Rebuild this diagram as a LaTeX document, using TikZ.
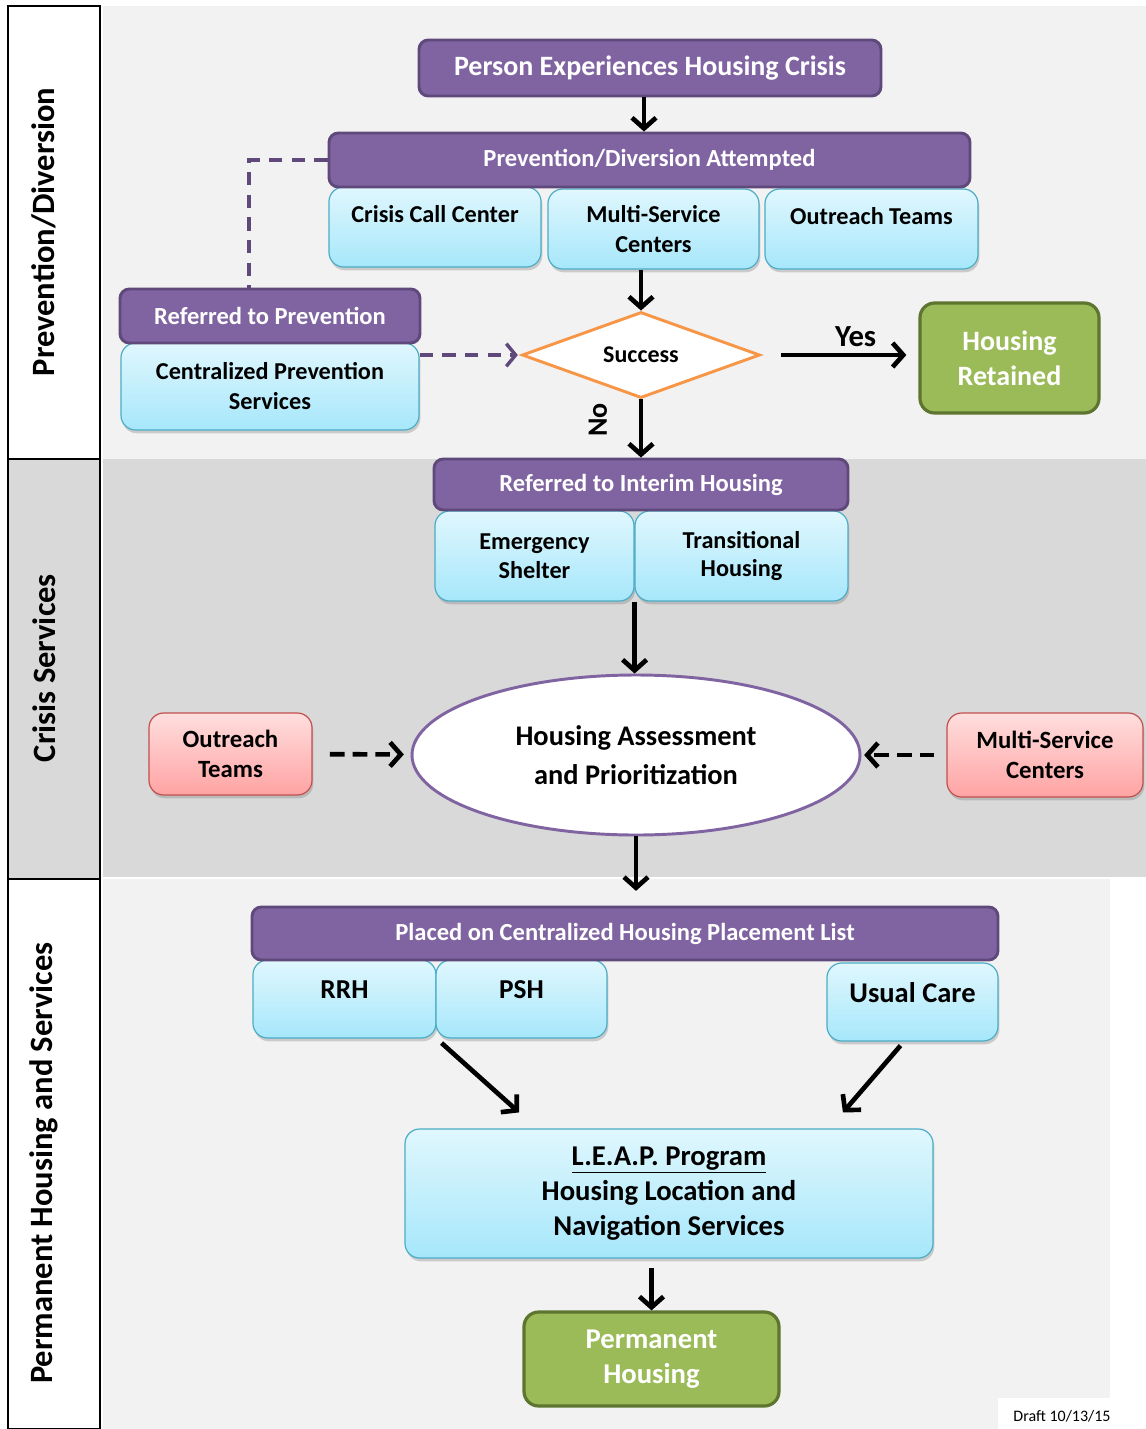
\documentclass[tikz,border=0pt]{standalone}
\usepackage{fontspec}
\setmainfont{Carlito}
\usepackage{xcolor}
\usepackage{tikz}
\usetikzlibrary{positioning,shapes.geometric,arrows.meta,shadows}

\definecolor{lanegrey}{HTML}{D9D9D9}
\definecolor{panelgrey}{HTML}{F2F2F2}
\definecolor{purplefill}{HTML}{8064A2}
\definecolor{purpleedge}{HTML}{5F497A}
\definecolor{bluetop}{HTML}{E0F7FD}
\definecolor{bluebottom}{HTML}{A6E7FB}
\definecolor{blueedge}{HTML}{4BACC6}
\definecolor{redtop}{HTML}{FFDEDE}
\definecolor{redbottom}{HTML}{FFA3A3}
\definecolor{rededge}{HTML}{C0504D}
\definecolor{greenfill}{HTML}{9BBB59}
\definecolor{greenedge}{HTML}{5E7530}
\definecolor{orangeedge}{HTML}{F79646}

\newlength\pxu
\setlength\pxu{0.75pt}
\newcommand\fsz[2]{\fontsize{#1}{#2}\selectfont\bfseries}

\begin{document}
\begin{tikzpicture}[x=0.75pt,y=-0.75pt,font=\bfseries,
  purplebox/.style={draw=purpleedge,fill=purplefill,line width=2.2pt,rounded corners=7pt,text=white,inner sep=0pt,align=center},
  bluebox/.style={draw=blueedge,top color=bluetop,bottom color=bluebottom,line width=0.9pt,rounded corners=11pt,inner sep=0pt,align=center,drop shadow={shadow xshift=1pt,shadow yshift=-2.5pt,opacity=0.35}},
  redbox/.style={draw=rededge,top color=redtop,bottom color=redbottom,line width=0.9pt,rounded corners=11pt,inner sep=0pt,align=center,drop shadow={shadow xshift=1pt,shadow yshift=-2.5pt,opacity=0.35}},
  greenbox/.style={draw=greenedge,fill=greenfill,line width=2.4pt,rounded corners=11pt,text=white,inner sep=0pt,align=center},
  uptext/.style={text height=12pt,text depth=#1},
  arr/.style={line width=3.5pt,-{Straight Barb[length=8pt,width=18pt]}},
  dasharr/.style={arr,dash pattern=on 11pt off 6pt},
  purpledash/.style={draw=purpleedge,line width=2.6pt,dash pattern=on 10pt off 7pt}]
\useasboundingbox (0,0) rectangle (1146,1429);
\fill[panelgrey] (103,6) rectangle (1146,459);
\fill[lanegrey] (103,459) rectangle (1146,877);
\fill[panelgrey] (103,879) rectangle (1110,1398);
\fill[panelgrey] (103,1398) rectangle (998,1429);
\draw[line width=0.8pt] (8,6) rectangle (100,459);
\filldraw[fill=lanegrey,line width=0.8pt] (8,459) rectangle (100,879);
\draw[line width=0.8pt] (8,879) rectangle (100,1429);
\node[rotate=90,font=\fsz{24.4}{28}] (lanea) at (44,232) {Prevention/Diversion};
\node[rotate=90,font=\fsz{24.4}{28}] (laneb) at (44,668) {Crisis Services};
\node[rotate=90,font=\fsz{24.4}{28}] (lanec) at (44,1163) {Permanent Housing and Services};

\node[purplebox,font=\fsz{21}{24},minimum width=462\pxu,minimum height=56\pxu] (crisis) at (650,68) {Person Experiences Housing Crisis};
\node[bluebox,font=\fsz{18.2}{22},uptext=18.4pt,minimum width=212\pxu,minimum height=80\pxu] (callcenter) at (435,227) {Crisis Call Center};
\node[bluebox,font=\fsz{18.2}{22},minimum width=211\pxu,minimum height=80\pxu] (multi) at (653.5,229) {Multi-Service\\Centers};
\node[bluebox,font=\fsz{18.2}{22},uptext=18.4pt,minimum width=213\pxu,minimum height=80\pxu] (outreach) at (871.5,229) {Outreach Teams};
\node[purplebox,font=\fsz{18.4}{22},minimum width=641\pxu,minimum height=54\pxu] (attempted) at (649.5,160) {Prevention/Diversion Attempted};
\node[bluebox,font=\fsz{18.2}{22.5},minimum width=298\pxu,minimum height=87\pxu] (central) at (270,386.5) {Centralized Prevention\\Services};
\node[purplebox,font=\fsz{18.4}{22},minimum width=300\pxu,minimum height=54\pxu] (referred) at (270,316) {Referred to Prevention};
\node[diamond,draw=orangeedge,fill=white,line width=2.2pt,aspect=2.77,inner sep=0pt,minimum width=238\pxu,minimum height=86\pxu,font=\fsz{18}{20}] (success) at (641,355) {Success};
\node[greenbox,font=\fsz{21}{26},minimum width=179\pxu,minimum height=110\pxu] (retained) at (1009.5,358) {Housing\\Retained};

\node[bluebox,font=\fsz{18.2}{21.5},minimum width=199\pxu,minimum height=90\pxu] (shelter) at (534.5,556) {Emergency\\Shelter};
\node[bluebox,font=\fsz{18.2}{21.5},minimum width=213\pxu,minimum height=90\pxu] (transitional) at (741.5,556) {Transitional\\Housing};
\node[purplebox,font=\fsz{18.4}{22},minimum width=414\pxu,minimum height=51\pxu] (interim) at (641,484.5) {Referred to Interim Housing};
\node[ellipse,draw=purplefill,fill=white,line width=2.2pt,inner sep=0pt,minimum width=448\pxu,minimum height=160\pxu,align=center,font=\fsz{21.3}{29}] (assess) at (636,755) {Housing Assessment\\and Prioritization};
\node[redbox,font=\fsz{18.6}{22},minimum width=163\pxu,minimum height=82\pxu] (outreachB) at (230.5,754) {Outreach\\Teams};
\node[redbox,font=\fsz{18.6}{22},minimum width=196\pxu,minimum height=84\pxu] (multiB) at (1045,755) {Multi-Service\\Centers};

\node[bluebox,font=\fsz{20.5}{24},uptext=12.3pt,minimum width=183\pxu,minimum height=78\pxu] (rrh) at (344.5,999) {RRH};
\node[bluebox,font=\fsz{20.5}{24},uptext=12.3pt,minimum width=171\pxu,minimum height=78\pxu] (psh) at (521.5,999) {PSH};
\node[bluebox,font=\fsz{21.4}{24},uptext=11.8pt,minimum width=171\pxu,minimum height=78\pxu] (usual) at (912.5,1002) {Usual Care};
\node[purplebox,font=\fsz{18.4}{22},minimum width=746\pxu,minimum height=53\pxu] (placed) at (625,933.5) {Placed on Centralized Housing Placement List};
\node[bluebox,font=\fsz{21.5}{26},minimum width=528\pxu,minimum height=129\pxu] (leap) at (669,1193.5) {\underline{L.E.A.P. Program}\\Housing Location and\\Navigation Services};
\node[greenbox,font=\fsz{21.5}{26},minimum width=255\pxu,minimum height=94\pxu] (perm) at (651.5,1359) {Permanent\\Housing};
\node[font=\fontsize{12}{14}\selectfont] (draft) at (1062,1416) {Draft 10/13/15};

\draw[arr] (crisis.south -| 644,0) -- (attempted.north -| 644,0);
\draw[arr] (success.north |- multi.south) -- (success);
\draw[purpledash] (attempted.west) -| ([xshift=-15.75pt]referred.north);
\draw[purpledash,-{Straight Barb[length=7pt,width=17pt]},shorten >=2pt] (success.west -| central.east) -- (success.west);
\draw[arr,shorten <=15pt,shorten >=9pt] (success.east) -- node[pos=0.6,above=1pt,font=\fsz{23}{26}] (yeslabel) {Yes} (success.east -| retained.west);
\draw[arr] (success) -- (interim);
\node[rotate=90,font=\fsz{21}{24}] (nolabel) at (598,420) {No};
\draw[arr] (shelter.south east) -- (shelter.south east |- assess.north);
\draw[dasharr,shorten <=13pt,shorten >=5pt] (outreachB) -- (assess);
\draw[dasharr,shorten <=9pt,shorten >=2pt] (multiB) -- (assess);
\draw[arr,shorten >=11pt] (assess.south) -- (assess.south |- placed.north);
\draw[arr,shorten <=5pt] (rrh.south east) -- ([xshift=86pt,yshift=12pt]leap.north west);
\draw[arr] ([xshift=-9pt,yshift=-3pt]usual.south) -- ([xshift=-68pt,yshift=12pt]leap.north east);
\draw[arr,shorten <=7pt] (leap.south -| perm.north) -- (perm.north);
\end{tikzpicture}
\end{document}
